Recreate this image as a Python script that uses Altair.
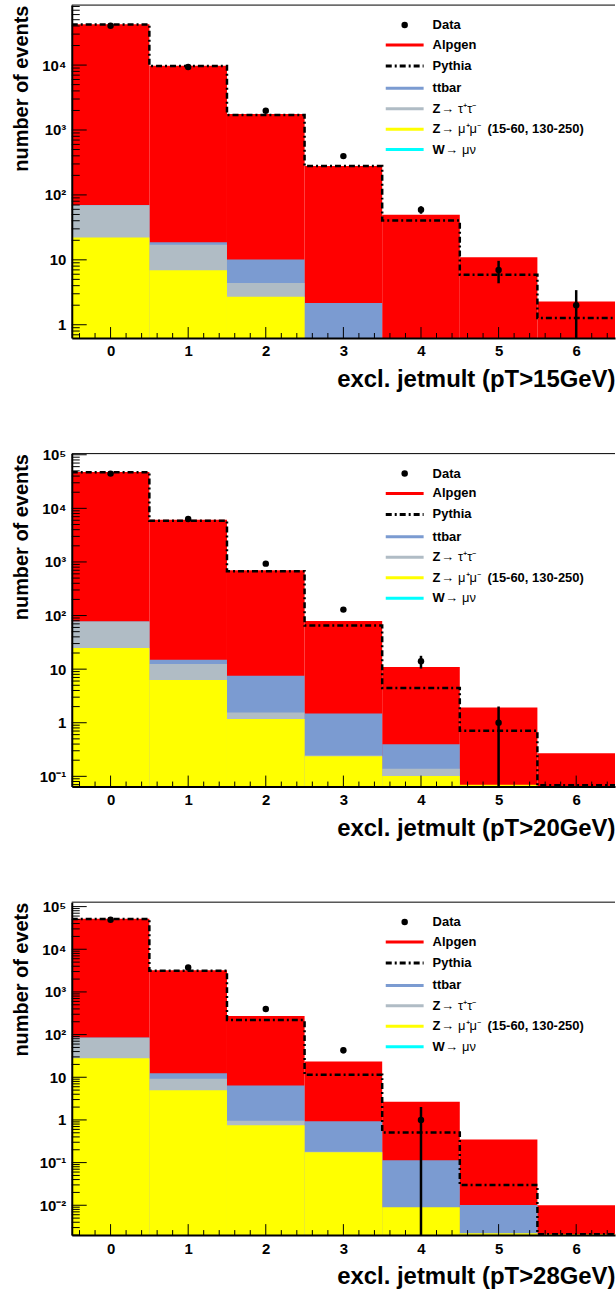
import altair as alt
import numpy as np
import pandas as pd

JETS = [0, 1, 2, 3, 4, 5, 6]

# ---- pT > 15 GeV ----
data_15 = [40500, 9320, 1975, 396, 59, 7, 2]
alpgen_15 = [42430, 9740, 1750, 276, 49.1, 10.9, 2.25]
pythia_15 = [42000, 9700, 1700, 278, 40.4, 5.9, 1.27]
ttbar_15 = [0.5, 1.6, 5.7, 1.87, 0.18, 0.05, 0.01]
ztautau_15 = [47.5, 10.1, 1.7, 0.05, 0.02, 0.01, 0.0]
zmumu_15 = [22, 6.9, 2.7, 0.25, 0.1, 0.04, 0.02]
wmunu_15 = [0, 0, 0, 0, 0, 0, 0]

# ---- pT > 20 GeV ----
data_20 = [44500, 6340, 930, 129, 14, 1, 0]
alpgen_20 = [47520, 6135, 691, 77.9, 10.6, 1.85, 0.204]
pythia_20 = [47000, 5900, 672, 65.3, 4.45, 0.71, 0.068]
ttbar_20 = [0.2, 2.4, 5.95, 1.245, 0.258, 0.0, 0.0]
ztautau_20 = [52.6, 6.24, 0.38, 0.007, 0.037, 0.0, 0.0]
zmumu_20 = [24.8, 6.26, 1.17, 0.238, 0.101, 0.07, 0.066]
wmunu_20 = [0, 0, 0, 0, 0, 0, 0]

# ---- pT > 28 GeV ----
data_28 = [49000, 3720, 398, 43, 1, 0, 0]
alpgen_28 = [51615, 3217, 265.6, 22.4, 2.56, 0.337, 0.0079]
pythia_28 = [51000, 3150, 220, 11.4, 0.51, 0.0297, 0.0021]
ttbar_28 = [0.1, 3.3, 5.44, 0.75, 0.105, 0.0079, 0.0]
ztautau_28 = [57, 4.21, 0.21, 0.005, 0.0, 0.0, 0.0]
zmumu_28 = [27.9, 4.99, 0.75, 0.175, 0.009, 0.0022, 0.0021]
wmunu_28 = [0, 0, 0, 0, 0, 0, 0]

PANELS = [
    dict(cut="15", ymin=0.625, ymax=8.4e4, ytitle="number of events",
         data=data_15, alpgen=alpgen_15, pythia=pythia_15, ttbar=ttbar_15,
         ztautau=ztautau_15, zmumu=zmumu_15, wmunu=wmunu_15, decades=[0, 1, 2, 3, 4]),
    dict(cut="20", ymin=0.0645, ymax=1.05e5, ytitle="number of events",
         data=data_20, alpgen=alpgen_20, pythia=pythia_20, ttbar=ttbar_20,
         ztautau=ztautau_20, zmumu=zmumu_20, wmunu=wmunu_20, decades=[-1, 0, 1, 2, 3, 4, 5]),
    dict(cut="28", ymin=0.002, ymax=1.27e5, ytitle="number of evets",
         data=data_28, alpgen=alpgen_28, pythia=pythia_28, ttbar=ttbar_28,
         ztautau=ztautau_28, zmumu=zmumu_28, wmunu=wmunu_28, decades=[-2, -1, 0, 1, 2, 3, 4, 5]),
]

RED = "#ff0000"
TTBAR = "#7b9bd1"
ZTT = "#b0bcc5"
ZMM = "#ffff00"
WMN = "#00ffff"
FONT = "Liberation Sans"

W, H = 545, 334

SUPERSCRIPT = str.maketrans("-0123456789", "⁻⁰¹²³⁴⁵⁶⁷⁸⁹")


def decade_text(e):
    if e == 0:
        return "1"
    if e == 1:
        return "10"
    return "10" + str(e).translate(SUPERSCRIPT)


def decade_expr(exps):
    expr = "''"
    for e in exps:
        expr = f"round(log(datum.value)/LN10) == {e} ? '{decade_text(e)}' : ({expr})"
    return expr


LEGEND = [
    ("point", "black", None, [("Data", "bold", 0)]),
    ("line", RED, None, [("Alpgen", "bold", 0)]),
    ("line", "black", [6, 3, 2, 3], [("Pythia", "bold", 0)]),
    ("line", TTBAR, None, [("ttbar", "bold", 0)]),
    ("line", ZTT, None, [("Z", "bold", 0), ("→ τ⁺τ⁻", "normal", 9)]),
    ("line", ZMM, None, [("Z", "bold", 0), ("→ μ⁺μ⁻", "normal", 9),
                         ("(15-60, 130-250)", "bold", 55)]),
    ("line", WMN, None, [("W", "bold", 0), ("→ μν", "normal", 13)]),
]
LEGEND_Y = [20, 40, 61, 83.5, 104, 124.5, 145]
LEG_X0, LEG_X1, LEG_DOT, LEG_TEXT = 315, 353, 334, 362

one_row = pd.DataFrame({"k": [0]})


def legend_layers():
    layers = []
    for (kind, color, dash, parts), y in zip(LEGEND, LEGEND_Y):
        if kind == "point":
            layers.append(alt.Chart(one_row).mark_point(
                filled=True, shape="circle", size=42, color=color, opacity=1
            ).encode(x=alt.value(LEG_DOT), y=alt.value(y)))
        else:
            kw = dict(color=color, strokeWidth=3)
            if dash:
                kw["strokeDash"] = dash
            layers.append(alt.Chart(one_row).mark_rule(**kw).encode(
                x=alt.value(LEG_X0), x2=alt.value(LEG_X1), y=alt.value(y)))
        for text, weight, dx in parts:
            layers.append(alt.Chart(one_row).mark_text(
                align="left", baseline="middle", font=FONT, fontSize=13,
                fontWeight=weight, color="black", text=text
            ).encode(x=alt.value(LEG_TEXT + dx), y=alt.value(y)))
    return layers


def panel(p):
    xscale = alt.Scale(domain=[-0.5, 6.5], nice=False, zero=False)
    yscale = alt.Scale(type="log", domain=[p["ymin"], p["ymax"]], nice=False)
    xax = alt.Axis(values=JETS, title=f"excl. jetmult (pT>{p['cut']}GeV)",
                   ticks=False, grid=False, domainColor="black", domainWidth=2,
                   labelFont=FONT, labelFontSize=15, labelFontWeight="bold",
                   labelColor="black", labelPadding=6, labelFlush=False,
                   titleFont=FONT, titleFontSize=24, titleFontWeight="bold",
                   titleColor="black", titleAnchor="end", titlePadding=9,
                   zindex=1)
    yax = alt.Axis(values=[10.0 ** e for e in p["decades"]],
                   labelExpr=decade_expr(p["decades"]),
                   title=p["ytitle"], ticks=False, grid=False,
                   domainColor="black", domainWidth=2,
                   labelFont=FONT, labelFontSize=15, labelFontWeight="bold",
                   labelColor="black", labelPadding=6,
                   titleFont=FONT, titleFontSize=20, titleFontWeight="bold",
                   titleColor="black", titleAnchor="end", titleX=-40,
                   zindex=1)

    def X(field):
        return alt.X(field, scale=xscale, axis=xax)

    def Y(field):
        return alt.Y(field, scale=yscale, axis=yax)

    # stacked histogram: W, Z->mumu, Z->tautau, ttbar, Alpgen from the bottom up
    comps = [("wmunu", WMN), ("zmumu", ZMM), ("ztautau", ZTT), ("ttbar", TTBAR), ("alpgen", RED)]
    cum = np.zeros(len(JETS))
    tops = {}
    for name, _ in comps:
        cum = cum + np.array(p[name], dtype=float)
        tops[name] = cum.copy()

    layers = []
    for name, color in reversed(comps):
        df = pd.DataFrame({
            "lo": np.array(JETS) - 0.5,
            "hi": np.array(JETS) + 0.5,
            "top": tops[name],
            "base": p["ymin"],
            "own": p[name],
        })
        df = df[df["own"] > 0]
        if df.empty:
            continue
        layers.append(alt.Chart(df).mark_rect(color=color, clip=True).encode(
            x=X("lo:Q"), x2="hi:Q", y=Y("top:Q"), y2="base:Q"))

    # Pythia outline as a step line over bin edges
    edges = list(np.array(JETS) - 0.5) + [JETS[-1] + 0.5]
    pyv = list(p["pythia"]) + [p["pythia"][-1]]
    pdf = pd.DataFrame({"lo": edges, "top": pyv})
    layers.append(alt.Chart(pdf).mark_line(
        interpolate="step-after", color="black", strokeWidth=2.5,
        strokeDash=[6, 3, 2, 3], clip=True
    ).encode(x=X("lo:Q"), y=Y("top:Q")))

    # data points with sqrt(N) error bars
    n = np.array(p["data"], dtype=float)
    ddf = pd.DataFrame({"lo": JETS, "top": n,
                        "elo": np.maximum(n - np.sqrt(n), 1e-9),
                        "ehi": n + np.sqrt(n)})
    ddf = ddf[ddf["top"] > 0]
    layers.append(alt.Chart(ddf).mark_rule(color="black", strokeWidth=2.5, clip=True).encode(
        x=X("lo:Q"), y=Y("elo:Q"), y2="ehi:Q"))
    layers.append(alt.Chart(ddf).mark_point(
        filled=True, shape="circle", size=42, color="black", opacity=1, clip=True
    ).encode(x=X("lo:Q"), y=Y("top:Q")))

    # inward tick marks on the left and bottom axes
    lo_e, hi_e = int(np.floor(np.log10(p["ymin"]))), int(np.ceil(np.log10(p["ymax"])))
    major_y = [10.0 ** e for e in range(lo_e, hi_e + 1) if p["ymin"] <= 10.0 ** e <= p["ymax"]]
    minor_y = [k * 10.0 ** e for e in range(lo_e, hi_e + 1) for k in range(2, 10)
               if p["ymin"] <= k * 10.0 ** e <= p["ymax"]]
    layers.append(alt.Chart(pd.DataFrame({"top": major_y})).mark_rule(color="black", strokeWidth=1).encode(
        y=Y("top:Q"), x=alt.value(0), x2=alt.value(15)))
    layers.append(alt.Chart(pd.DataFrame({"top": minor_y})).mark_rule(color="black", strokeWidth=1).encode(
        y=Y("top:Q"), x=alt.value(0), x2=alt.value(8)))
    minor_x = [round(v, 1) for v in np.arange(-0.4, 6.45, 0.2) if abs(v - round(v)) > 1e-6]
    layers.append(alt.Chart(pd.DataFrame({"lo": JETS})).mark_rule(color="black", strokeWidth=1).encode(
        x=X("lo:Q"), y=alt.value(H), y2=alt.value(H - 11)))
    layers.append(alt.Chart(pd.DataFrame({"lo": minor_x})).mark_rule(color="black", strokeWidth=1).encode(
        x=X("lo:Q"), y=alt.value(H), y2=alt.value(H - 5)))

    # top frame line
    layers.append(alt.Chart(one_row).mark_rule(color="black", strokeWidth=1).encode(
        x=alt.value(0), x2=alt.value(W), y=alt.value(0)))

    layers += legend_layers()
    return alt.layer(*layers).properties(width=W, height=H)


chart = alt.vconcat(*[panel(p) for p in PANELS], spacing=116, bounds="flush").configure(
    padding={"left": 11, "top": 2, "right": 0, "bottom": 0},
    background="white",
).configure_view(stroke=None)

chart.save("out.html", embed_options={"renderer": "svg", "actions": False})
